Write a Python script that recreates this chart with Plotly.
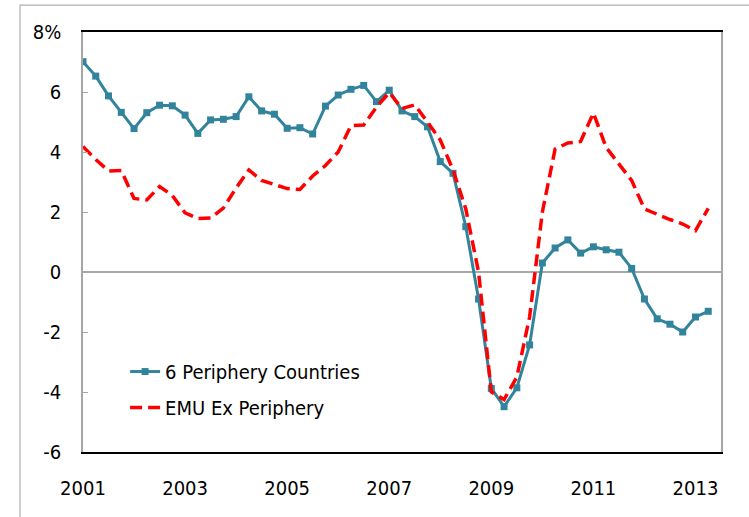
import plotly.graph_objects as go

# quarterly observations, 2001Q1 .. 2013Q2
quarters = [2001 + q / 4 for q in range(50)]

periphery = [7.01, 6.53, 5.87, 5.32, 4.78, 5.31, 5.56, 5.54, 5.23, 4.62,
             5.07, 5.09, 5.18, 5.84, 5.37, 5.26, 4.79, 4.81, 4.60, 5.53,
             5.90, 6.09, 6.22, 5.68, 6.06, 5.37, 5.18, 4.84, 3.68, 3.29,
             1.51, -0.90, -3.88, -4.49, -3.86, -2.43, 0.30, 0.80, 1.07, 0.63,
             0.84, 0.74, 0.66, 0.12, -0.90, -1.56, -1.74, -2.00, -1.50, -1.31]

emu_ex = [4.18, 3.75, 3.37, 3.38, 2.45, 2.40, 2.85, 2.55, 1.97, 1.78,
          1.80, 2.13, 2.80, 3.40, 3.05, 2.90, 2.78, 2.75, 3.20, 3.55,
          4.00, 4.88, 4.90, 5.50, 5.98, 5.45, 5.57, 5.00, 4.40, 3.40,
          2.10, 0.00, -4.00, -4.25, -3.50, -1.50, 2.00, 4.10, 4.30, 4.35,
          5.30, 4.15, 3.60, 3.05, 2.10, 1.92, 1.75, 1.60, 1.38, 2.12]

year_ticks = [2001, 2003, 2005, 2007, 2009, 2011, 2013]
y_ticks = [-6, -4, -2, 0, 2, 4, 6, 8]
y_labels = ['-6', '-4', '-2', '0', '2', '4', '6', '8%']

FONT = 'DejaVu Sans Condensed, Liberation Sans Narrow, Roboto, sans-serif'

fig = go.Figure()
fig.add_trace(go.Scatter(x=quarters, y=periphery, name='6 Periphery Countries',
                         mode='lines+markers', legendgroup='a',
                         line=dict(color='#31849B', width=3),
                         marker=dict(symbol='square', size=7, color='#31849B')))
fig.add_trace(go.Scatter(x=quarters, y=emu_ex, name='EMU Ex Periphery',
                         mode='lines', legendgroup='b',
                         line=dict(color='#FF0000', width=3.5, dash='12px,6px')))

# outer chart frame
fig.add_shape(type='rect', xref='paper', yref='paper',
              x0=-0.0987, x1=1.3, y0=-0.4, y1=1.064,
              line=dict(color='#B0B0B0', width=1.2), layer='below')

fig.update_layout(
    width=749, height=517,
    margin=dict(l=83, r=28, t=32, b=65),
    paper_bgcolor='white', plot_bgcolor='white',
    font=dict(family=FONT, size=20, color='black'),
    showlegend=True,
    legend=dict(x=0.066, y=0.238, xanchor='left', yanchor='top',
                bgcolor='rgba(0,0,0,0)', itemwidth=30, tracegroupgap=7,
                font=dict(size=20)),
    xaxis=dict(range=[2001, 2013.5], tickvals=year_ticks, automargin=False,
               showgrid=False, zeroline=False,
               showline=True, linecolor='black', linewidth=1.5, mirror=True,
               ticks='', ticklabelstandoff=17),
    yaxis=dict(range=[-6, 8], tickvals=y_ticks, ticktext=y_labels,
               automargin=False,
               showgrid=False, zeroline=True, zerolinecolor='#A6A6A6',
               zerolinewidth=1.5,
               showline=True, linecolor='#A6A6A6', linewidth=1.5, mirror=True,
               ticks='inside', ticklen=5, tickcolor='#A6A6A6',
               ticklabelstandoff=16),
)

fig.write_html("out.html", config={'displayModeBar': False},
               post_script="document.body.style.margin='0';")
